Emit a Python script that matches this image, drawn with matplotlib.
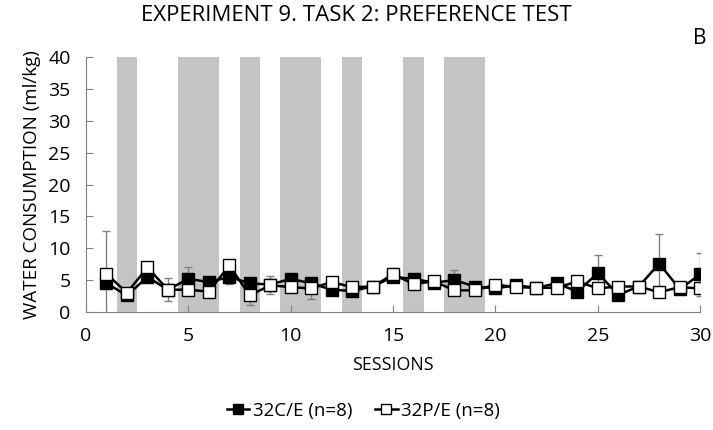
import matplotlib.pyplot as plt
import numpy as np

sessions = np.arange(1, 31)
ce_mean = [4.5, 2.6, 5.5, 3.5, 5.2, 4.7, 5.5, 4.5, 4.3, 5.2, 4.5, 3.5, 3.3, 4.0, 5.5,
           5.2, 4.6, 5.0, 4.0, 3.7, 4.2, 3.8, 4.5, 3.2, 6.1, 2.7, 4.0, 7.6, 3.6, 5.9]
pe_mean = [6.0, 3.0, 7.0, 3.5, 3.5, 3.2, 7.3, 2.6, 4.2, 3.9, 3.7, 4.7, 3.9, 4.0, 5.9,
           4.4, 4.8, 3.4, 3.4, 4.3, 3.9, 3.8, 3.8, 4.8, 3.7, 4.0, 4.0, 3.1, 3.9, 3.7]
ce_err = [0.5, 0.4, 0.6, 0.5, 1.9, 0.5, 1.1, 0.8, 0.6, 0.5, 0.7, 0.4, 0.4, 0.4, 0.8,
          0.5, 0.4, 1.6, 0.5, 0.4, 0.4, 0.4, 0.4, 0.5, 2.9, 0.5, 0.4, 4.6, 0.4, 3.4]
pe_err = [6.7, 0.5, 0.6, 1.8, 0.6, 0.5, 0.6, 1.5, 1.4, 0.5, 1.7, 0.5, 0.4, 0.4, 1.0,
          0.6, 0.5, 0.6, 0.4, 0.5, 0.4, 0.4, 0.4, 0.5, 0.5, 0.5, 0.4, 0.5, 0.4, 0.5]
shaded = [(1.5, 2.5), (4.5, 6.5), (7.5, 8.5), (9.5, 11.5), (12.5, 13.5), (15.5, 16.5), (17.5, 19.5)]

plt.rcParams['font.family'] = ['Open Sans', 'DejaVu Sans']

fig = plt.figure(figsize=(7.13, 4.30), dpi=100)
ax = fig.add_axes([0.1206, 0.2744, 0.8614, 0.593])

for a, b in shaded:
    ax.axvspan(a, b, color='#c4c4c4', lw=0, zorder=0)

ax.errorbar(sessions, ce_mean, yerr=ce_err, fmt='none', ecolor='#808080', elinewidth=1, capsize=3, zorder=1)
ax.errorbar(sessions, pe_mean, yerr=pe_err, fmt='none', ecolor='#808080', elinewidth=1, capsize=3, zorder=1)
ax.plot(sessions, ce_mean, color='black', lw=1.8, marker='s', ms=8.5, mfc='black', mec='black',
        label='32C/E (n=8)', zorder=3)
ax.plot(sessions, pe_mean, color='black', lw=1.8, marker='s', ms=8.5, mfc='white', mec='black',
        label='32P/E (n=8)', zorder=4)

ax.set_xlim(0, 30)
ax.set_ylim(0, 40)
ax.set_xticks(range(0, 31, 5))
ax.set_yticks(range(0, 41, 5))
for s in ['top', 'right']:
    ax.spines[s].set_visible(False)
for s in ['left', 'bottom']:
    ax.spines[s].set_color('#808080')
ax.tick_params(direction='in', colors='#808080', labelcolor='black', labelsize=14, length=5)
ax.tick_params(axis='x', pad=11)
ax.tick_params(axis='y', pad=11)

ax.set_xlabel('SESSIONS', fontsize=12.8, labelpad=8)
ax.set_ylabel('WATER CONSUMPTION (ml/kg)', fontsize=13.5, labelpad=5)
fig.text(0.5, 0.963, 'EXPERIMENT 9. TASK 2: PREFERENCE TEST', ha='center', va='center', fontsize=16)
fig.text(0.982, 0.91, 'B', ha='center', va='center', fontsize=15)

fig.legend(loc='center', bbox_to_anchor=(0.51, 0.045), ncol=2, frameon=False, fontsize=13.5,
           handlelength=1.2, columnspacing=1.2, handletextpad=0.2, markerscale=0.8)

fig.savefig('out.png', dpi=100)
